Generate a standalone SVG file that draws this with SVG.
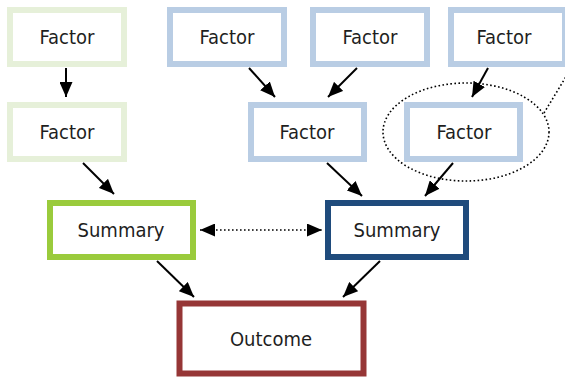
<svg xmlns="http://www.w3.org/2000/svg" width="565" height="377" viewBox="0 0 565 377">
<defs>
<style>
.box{fill:#fff;stroke-width:6}
.lg{stroke:#e6f0d9}
.lb{stroke:#b9cde4}
.t{font-family:"DejaVu Sans Condensed","DejaVu Sans",sans-serif;font-size:20px;fill:#1e1e1e;text-anchor:middle;dominant-baseline:central}
.c{stroke:#000;stroke-width:2;fill:none}
.d{stroke:#000;stroke-width:1.6;fill:none;stroke-dasharray:1.6 2.4}
</style>
<marker id="ah" viewBox="0 0 15 13" refX="15" refY="6.5" markerWidth="15" markerHeight="13" markerUnits="userSpaceOnUse" orient="auto-start-reverse">
<path d="M0,0 L15,6.5 L0,13 Z" fill="#000"/>
</marker>
</defs>
<rect width="565" height="377" fill="#fff"/>
<g id="connectors">
<line class="c" x1="66" y1="68" x2="66" y2="97" marker-end="url(#ah)"/>
<line class="c" x1="249" y1="68" x2="275" y2="97" marker-end="url(#ah)"/>
<line class="c" x1="357" y1="68" x2="328" y2="97" marker-end="url(#ah)"/>
<line class="c" x1="488" y1="68" x2="472" y2="97" marker-end="url(#ah)"/>
<line class="c" x1="83" y1="163" x2="114" y2="194" marker-end="url(#ah)"/>
<line class="c" x1="327" y1="163" x2="362" y2="196" marker-end="url(#ah)"/>
<line class="c" x1="453" y1="163" x2="425" y2="196" marker-end="url(#ah)"/>
<line class="d" x1="200" y1="230" x2="322" y2="230" marker-start="url(#ah)" marker-end="url(#ah)"/>
<line class="c" x1="157" y1="261" x2="194" y2="297" marker-end="url(#ah)"/>
<line class="c" x1="380" y1="261" x2="343" y2="297" marker-end="url(#ah)"/>
<ellipse class="d" cx="466" cy="132" rx="83" ry="49"/>
<line class="d" x1="544" y1="113" x2="567" y2="75"/>
</g>
<g id="f1"><rect class="box lg" x="10" y="10" width="114" height="54"/><text class="t" x="67" y="37">Factor</text></g>
<g id="f2"><rect class="box lg" x="10" y="105" width="114" height="54"/><text class="t" x="67" y="132">Factor</text></g>
<g id="f3"><rect class="box lb" x="170" y="10" width="114" height="54"/><text class="t" x="227" y="37">Factor</text></g>
<g id="f4"><rect class="box lb" x="313" y="10" width="114" height="54"/><text class="t" x="370" y="37">Factor</text></g>
<g id="f5"><rect class="box lb" x="451" y="10" width="114" height="54"/><text class="t" x="504" y="37">Factor</text></g>
<g id="f6"><rect class="box lb" x="251" y="105" width="113" height="54"/><text class="t" x="307" y="132">Factor</text></g>
<g id="f7"><rect class="box lb" x="407" y="105" width="113" height="54"/><text class="t" x="464" y="132">Factor</text></g>
<g id="s1"><rect class="box" stroke="#9acb3c" x="50" y="203" width="143" height="54"/><text class="t" x="121" y="230">Summary</text></g>
<g id="s2"><rect class="box" stroke="#1f4b7c" x="328" y="203" width="138" height="54"/><text class="t" x="397" y="230">Summary</text></g>
<g id="o"><rect class="box" stroke="#963636" stroke-width="7" x="179.5" y="303.5" width="184" height="70"/><text class="t" x="271" y="339">Outcome</text></g>
</svg>
